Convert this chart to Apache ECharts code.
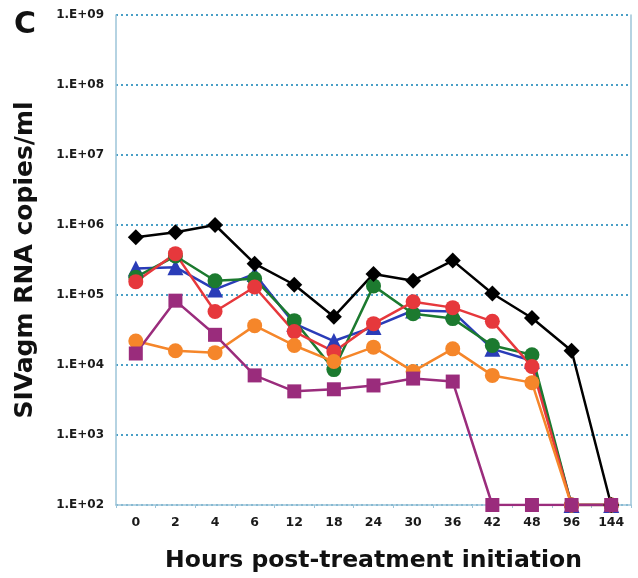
<!DOCTYPE html>
<html>
<head>
<meta charset="utf-8">
<script src="https://cdn.jsdelivr.net/npm/echarts@6/dist/echarts.min.js"></script>
<style>
  html, body { margin: 0; padding: 0; background: #fff; }
  #chart { width: 638px; height: 578px; }
</style>
</head>
<body>
<div id="chart"></div>
<script>
// Hours after treatment start (category axis)
const hours = ['0', '2', '4', '6', '12', '18', '24', '30', '36', '42', '48', '96', '144'];

// Plasma viral load per animal (copies/ml)
const animalBlack  = [6.7e5, 7.9e5, 1.0e6, 2.8e5, 1.4e5, 4.9e4, 2.0e5, 1.6e5, 3.1e5, 1.05e5, 4.7e4, 1.6e4, 100];
const animalBlue   = [2.4e5, 2.5e5, 1.2e5, 2.0e5, 3.9e4, 2.2e4, 3.5e4, 6.0e4, 5.8e4, 1.7e4, 1.15e4, 100, 100];
const animalGreen  = [1.8e5, 3.6e5, 1.6e5, 1.7e5, 4.3e4, 8.6e3, 1.35e5, 5.4e4, 4.6e4, 1.9e4, 1.4e4, 100, 100];
const animalRed    = [1.55e5, 3.9e5, 5.8e4, 1.3e5, 3.0e4, 1.55e4, 3.9e4, 8.0e4, 6.6e4, 4.2e4, 9.5e3, 100, 100];
const animalOrange = [2.2e4, 1.6e4, 1.5e4, 3.65e4, 1.9e4, 1.12e4, 1.8e4, 8.1e3, 1.7e4, 7.1e3, 5.6e3, 100, 100];
const animalPurple = [1.46e4, 8.3e4, 2.7e4, 7.1e3, 4.2e3, 4.5e3, 5.1e3, 6.4e3, 5.8e3, 100, 100, 100, 100];

// Decade tick labels from 1e2 to 1e9
const yTickLabels = ['1.E+02', '1.E+03', '1.E+04', '1.E+05', '1.E+06', '1.E+07', '1.E+08', '1.E+09'];

const chart = echarts.init(document.getElementById('chart'), null, { renderer: 'canvas' });

function line(name, data, color, symbol, size) {
  return {
    name: name,
    type: 'line',
    data: data,
    symbol: symbol,
    symbolSize: size,
    lineStyle: { color: color, width: 2.5 },
    itemStyle: { color: color },
    animation: false
  };
}

const axisBlue = '#9cc4d8';

chart.setOption({
  backgroundColor: '#ffffff',
  animation: false,
  graphic: [
    {
      type: 'text', left: 14, top: 10,
      style: { text: 'C', font: 'bold 30px "DejaVu Sans"', fill: '#111' }
    }
  ],
  grid: { left: 116, right: 7, top: 15, bottom: 71, containLabel: false },
  xAxis: {
    type: 'category',
    data: hours,
    boundaryGap: true,
    axisLine: { lineStyle: { color: axisBlue, width: 1.5 } },
    axisTick: { show: true, length: 3, lineStyle: { color: axisBlue } },
    axisLabel: {
      margin: 11,
      color: '#1a1a1a',
      fontFamily: 'DejaVu Sans',
      fontWeight: 'bold',
      fontSize: 12.5
    },
    name: 'Hours post-treatment initiation',
    nameLocation: 'middle',
    nameGap: 44,
    nameTextStyle: {
      color: '#111',
      fontFamily: 'DejaVu Sans',
      fontWeight: 'bold',
      fontSize: 23.5
    }
  },
  yAxis: [
    {
      type: 'log',
      logBase: 10,
      min: 100,
      max: 1e9,
      axisLine: { show: true, lineStyle: { color: axisBlue, width: 1.5 } },
      axisTick: { show: false },
      splitLine: {
        show: true,
        lineStyle: { color: '#4a9fc6', type: [2, 3], width: 2 }
      },
      axisLabel: {
        margin: 12,
        color: '#1a1a1a',
        fontFamily: 'DejaVu Sans',
        fontWeight: 'bold',
        fontSize: 12
      ,
        formatter: function (v) {
          const e = Math.round(Math.log10(v));
          return yTickLabels[e - 2] || '';
        }
      },
      name: 'SIVagm RNA copies/ml',
      nameLocation: 'middle',
      nameGap: 78,
      nameRotate: 90,
      nameTextStyle: {
        color: '#111',
        fontFamily: 'DejaVu Sans',
        fontWeight: 'bold',
        fontSize: 25
      }
    },
    {
      type: 'log',
      logBase: 10,
      min: 100,
      max: 1e9,
      position: 'right',
      axisLine: { show: true, lineStyle: { color: axisBlue, width: 1.5 } },
      axisTick: { show: false },
      axisLabel: { show: false },
      splitLine: { show: false }
    }
  ],
  series: [
    line('Blue', animalBlue, '#2a3cb8', 'triangle', 16),
    line('Green', animalGreen, '#1c7a2f', 'circle', 15),
    line('Red', animalRed, '#e6383c', 'circle', 15),
    line('Orange', animalOrange, '#f5862a', 'circle', 15),
    line('Black', animalBlack, '#000000', 'diamond', 16),
    line('Purple', animalPurple, '#9a2c7c', 'rect', 14)
  ]
});
</script>
</body>
</html>
